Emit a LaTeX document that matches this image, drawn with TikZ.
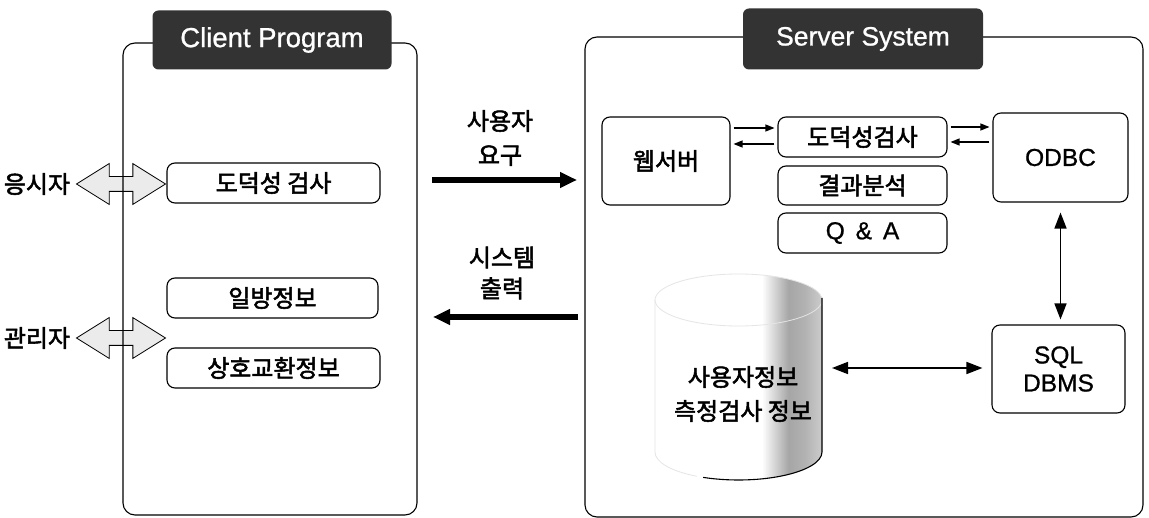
\documentclass[tikz,border=0pt]{standalone}
\usepackage{fontspec}
\setmainfont{Liberation Sans}[FakeBold=0.9]
\newfontfamily\kr[FakeBold=2.2]{Noto Sans CJK KR}
\usetikzlibrary{arrows.meta,calc,shapes.arrows,backgrounds}
\pgfdeclarehorizontalshading{cylshade}{100bp}{color(0bp)=(white); color(25bp)=(white); color(57bp)=(white); color(65bp)=(black!35); color(70bp)=(black!30); color(75bp)=(black!20); color(100bp)=(black!20)}
\begin{document}
\begin{tikzpicture}[x=1pt,y=-1pt,
  frame/.style={draw, line width=1.1pt, rounded corners=12pt, inner sep=0pt},
  tag/.style={fill=black!80, text=white, rounded corners=6pt, inner sep=0pt, font=\fontsize{26.5}{30}\selectfont},
  box/.style={draw, line width=1.1pt, rounded corners=8pt, inner sep=0pt, font=\kr\fontsize{24}{28}\selectfont},
  lbox/.style={box, align=center, font=\fontsize{24.5}{28}\selectfont},
  krtext/.style={inner sep=0pt, font=\kr\fontsize{24}{34}\selectfont, align=center},
  hollow/.style={double arrow, draw, line width=0.8pt, fill=black!8, inner sep=7pt,
    double arrow head extend=13pt, double arrow tip angle=64, minimum height=89pt},
  bigarrow/.style={line width=5.5pt, -{Triangle[length=17pt,width=15pt]}},
  thinarrow/.style={line width=1.2pt, -{Triangle[length=9pt,width=7pt]}},
  dblarrow/.style={line width=1.6pt, {Triangle[length=16pt,width=12pt]}-{Triangle[length=16pt,width=12pt]}}
]
\useasboundingbox (0,0) rectangle (1149,518);

% frames
\node[frame, minimum width=294pt, minimum height=472pt] (cframe) at (270,279) {};
\node[frame, minimum width=558pt, minimum height=480pt] (sframe) at (864,277) {};
\node[tag, minimum width=239pt, minimum height=59pt, font=\fontsize{27.5}{30}\selectfont] (ctag) at (272,40) {Client Program};
\node[tag, minimum width=240pt, minimum height=61pt] (stag) at (863,39) {Server System};

% client side
\node[box, minimum width=213pt, minimum height=40pt] (cdod) at (273.5,183) {도덕성 검사};
\node[box, minimum width=211pt, minimum height=40pt] (cil) at (272.5,298) {일방정보};
\node[box, minimum width=213pt, minimum height=40pt] (csang) at (273.5,368) {상호교환정보};
\node[krtext] (u1) at (37,184) {응시자};
\node[krtext] (u2) at (37,338) {관리자};

\begin{scope}[on background layer]
\fill[white] (0,0) rectangle (1149,518);
\node[hollow] (h1) at (121,184) {};
\node[hollow] (h2) at (121,338) {};
\end{scope}

% middle
\node[krtext] (req) at (500,138) {사용자\\요구};
\node[krtext, font=\kr\fontsize{24}{31}\selectfont] (out) at (502,273) {시스템\\출력};
\coordinate (rA) at (432,180);
\coordinate (rB) at (577,180);
\coordinate (oA) at (578,317);
\coordinate (oB) at (433,317);
\draw[bigarrow] (rA) -- (rB);
\draw[bigarrow] (oA) -- (oB);

% server side
\node[box, minimum width=128pt, minimum height=88pt] (web) at (666,161) {웹서버};
\node[box, minimum width=169pt, minimum height=40pt] (sdod) at (862.5,137) {도덕성검사};
\node[box, minimum width=169pt, minimum height=39pt] (res) at (862.5,185.5) {결과분석};
\node[lbox, minimum width=169pt, minimum height=40pt] (qa) at (862.5,233) {Q \,\&\, A};
\node[lbox, minimum width=135pt, minimum height=89pt] (odbc) at (1060.5,157.5) {ODBC};
\node[lbox, minimum width=133pt, minimum height=88pt] (sql) at (1058.5,369) {SQL\\DBMS};

\draw[thinarrow, shorten <=3pt, shorten >=3pt] ($(web.east |- sdod.west)+(0,-9)$) -- ($(sdod.west)+(0,-9)$);
\draw[thinarrow, shorten <=3pt, shorten >=3pt] ($(sdod.west)+(0,7)$) -- ($(web.east |- sdod.west)+(0,7)$);
\draw[thinarrow, shorten <=3pt, shorten >=3pt] ($(sdod.east)+(0,-10)$) -- ($(sdod.east -| odbc.west)+(0,-10)$);
\draw[thinarrow, shorten <=3pt, shorten >=3pt] ($(sdod.east -| odbc.west)+(0,5)$) -- ($(sdod.east)+(0,5)$);
\draw[dblarrow, shorten <=10pt, shorten >=5pt] (odbc.south) -- (odbc.south |- sql.north);

% database cylinder
\shade[shading=cylshade] (655,300) -- (655,452) arc[start angle=180, end angle=0, x radius=83.5, y radius=28] -- (822,300) arc[start angle=0, end angle=-180, x radius=83.5, y radius=26] -- cycle;
\draw[black!10, line width=0.8pt] (738.5,300) ellipse[x radius=83.5, y radius=26];
\draw[black!10, line width=0.8pt] (655,300) -- (655,452) arc[start angle=180, end angle=120, x radius=83.5, y radius=28];
\draw[line width=1.1pt] (822,298) -- (822,452) arc[start angle=0, end angle=115, x radius=83.5, y radius=28];
\coordinate (dbR) at (822,368);
\node[krtext, font=\kr\fontsize{24}{34}\selectfont] (db) at (743,394) {사용자정보\\측정검사 정보};
\draw[dblarrow, shorten <=10pt, shorten >=9pt] (dbR) -- (dbR -| sql.west);
\end{tikzpicture}
\end{document}
